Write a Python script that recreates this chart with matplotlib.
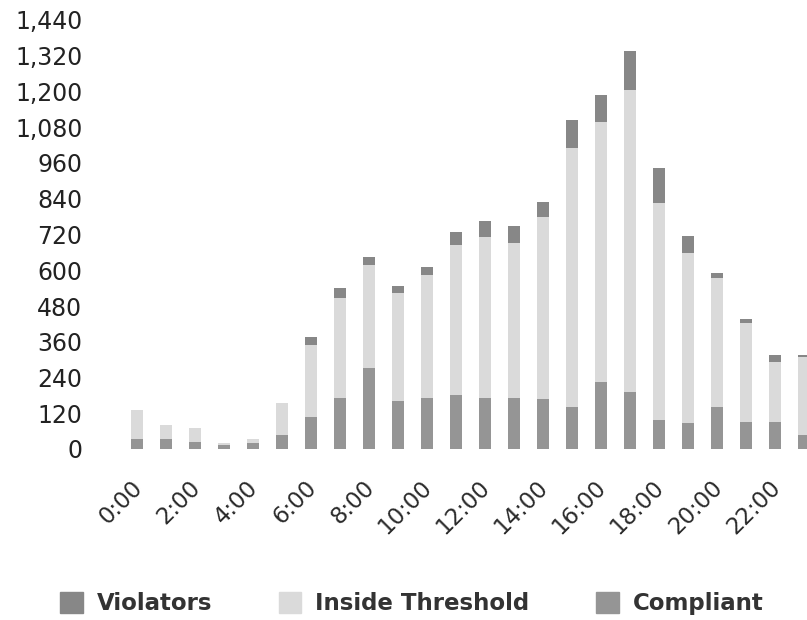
import numpy as np
import matplotlib
matplotlib.use("Agg")
import matplotlib.pyplot as plt
from matplotlib.patches import Patch
from matplotlib.ticker import FuncFormatter

# hourly counts, stacked bottom -> top: compliant, inside threshold, violators
hours = list(range(24))
hour_labels = ["0:00", "2:00", "4:00", "6:00", "8:00", "10:00",
               "12:00", "14:00", "16:00", "18:00", "20:00", "22:00"]
compliant = [34, 34, 24, 15, 20, 47, 107, 171, 272, 161, 171, 181,
             171, 171, 168, 141, 225, 191, 97, 87, 141, 91, 91, 47]
inside = [97, 47, 46, 5, 14, 107, 242, 336, 346, 363, 413, 504,
          541, 521, 611, 869, 873, 1014, 729, 571, 433, 332, 201, 262]
violators = [0, 0, 0, 0, 0, 0, 27, 33, 27, 23, 27, 44,
             53, 57, 50, 94, 90, 131, 117, 57, 17, 13, 24, 7]

c_viol = "#878787"
c_inside = "#dadada"
c_comp = "#959595"

fig = plt.figure(figsize=(8.07, 6.2), dpi=100)
ax = fig.add_axes([95 / 807, 171 / 620, 712 / 807, 429 / 620])

x = np.array(hours)
comp = np.array(compliant)
ins = np.array(inside)
vio = np.array(violators)
w = 0.42
ax.bar(x, comp, w, color=c_comp, linewidth=0)
ax.bar(x, ins, w, bottom=comp, color=c_inside, linewidth=0)
ax.bar(x, vio, w, bottom=comp + ins, color=c_viol, linewidth=0)

ax.set_xlim((95 - 137) / 29, (807 - 137) / 29)
ax.set_ylim(0, 1440)
ax.set_yticks(np.arange(0, 1441, 120))
ax.yaxis.set_major_formatter(FuncFormatter(lambda v, p: f"{int(v):,}"))
ax.set_xticks(hours[::2])
ax.set_xticklabels(hour_labels, rotation=45, ha="right", va="center_baseline",
                   rotation_mode="anchor")

for s in ax.spines.values():
    s.set_visible(False)
ax.tick_params(axis="y", length=0, pad=9, labelsize=17, labelcolor="#222222")
ax.tick_params(axis="x", length=0, pad=24, labelsize=16.5, labelcolor="#2a2a2a")

handles = [Patch(color=c_viol), Patch(color=c_inside), Patch(color=c_comp)]
fig.legend(handles, ["Violators", "Inside Threshold", "Compliant"],
           loc="center", bbox_to_anchor=(0.51, 0.026), ncol=3, frameon=False,
           prop={"weight": "bold", "size": 16.5}, labelcolor="#333333",
           handlelength=1.0, handleheight=1.0, handletextpad=0.6,
           columnspacing=2.9)

fig.savefig("out.png", dpi=100)
